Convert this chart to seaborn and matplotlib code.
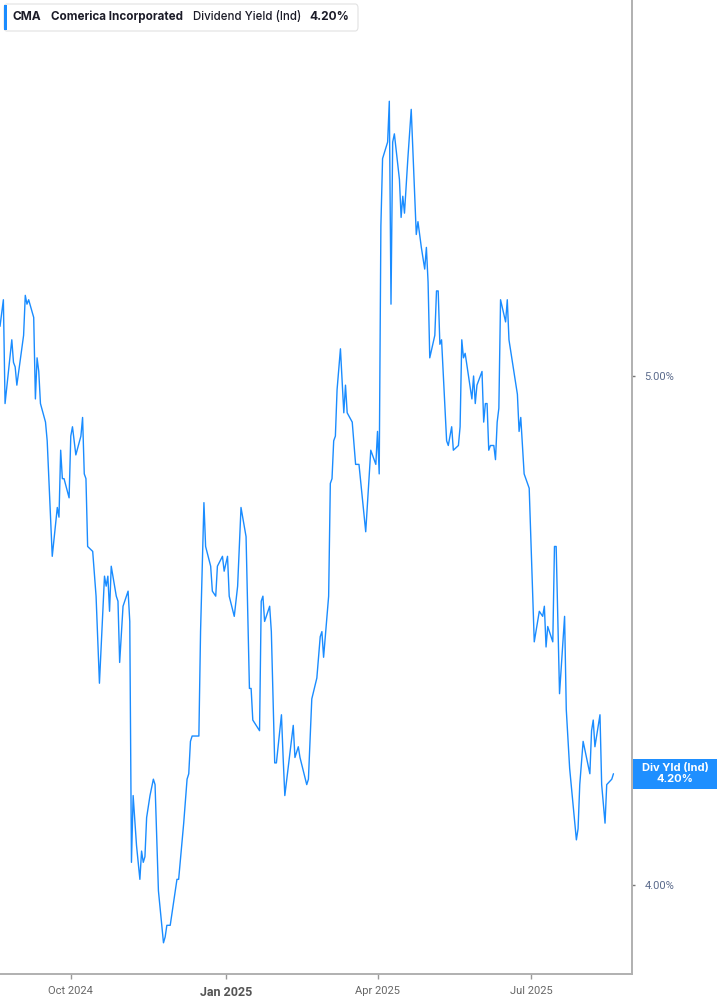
import pandas as pd
import matplotlib
matplotlib.use("Agg")
import matplotlib.pyplot as plt
import matplotlib.dates as mdates
from matplotlib.patches import FancyBboxPatch, Rectangle
import seaborn as sns

# Dividend yield (indicated) for CMA
dates = [
    # Aug 2024
    "2024-08-20", "2024-08-22", "2024-08-23", "2024-08-27", "2024-08-28", "2024-08-29", "2024-08-30",
    # Sep
    "2024-09-03", "2024-09-04", "2024-09-05", "2024-09-06", "2024-09-09", "2024-09-10", "2024-09-11",
    "2024-09-12", "2024-09-13", "2024-09-16", "2024-09-17", "2024-09-20", "2024-09-23", "2024-09-24",
    "2024-09-25", "2024-09-26", "2024-09-27", "2024-09-30",
    # Oct
    "2024-10-01", "2024-10-02", "2024-10-04", "2024-10-07", "2024-10-08", "2024-10-09", "2024-10-10",
    "2024-10-11", "2024-10-14", "2024-10-16", "2024-10-18", "2024-10-21", "2024-10-22", "2024-10-23",
    "2024-10-24", "2024-10-25", "2024-10-28", "2024-10-29", "2024-10-30",
    # Nov
    "2024-11-01", "2024-11-04", "2024-11-05", "2024-11-06", "2024-11-07", "2024-11-09", "2024-11-11",
    "2024-11-12", "2024-11-13", "2024-11-14", "2024-11-15", "2024-11-17", "2024-11-19", "2024-11-20",
    "2024-11-22", "2024-11-25", "2024-11-26", "2024-11-27", "2024-11-29",
    # Dec
    "2024-12-02", "2024-12-03", "2024-12-04", "2024-12-07", "2024-12-09", "2024-12-10", "2024-12-11",
    "2024-12-12", "2024-12-13", "2024-12-16", "2024-12-17", "2024-12-19", "2024-12-20", "2024-12-23",
    "2024-12-24", "2024-12-26", "2024-12-27", "2024-12-30", "2024-12-31",
    # Jan 2025
    "2025-01-02", "2025-01-03", "2025-01-06", "2025-01-08", "2025-01-10", "2025-01-13", "2025-01-15",
    "2025-01-16", "2025-01-17", "2025-01-21", "2025-01-22", "2025-01-23", "2025-01-24", "2025-01-27",
    "2025-01-28", "2025-01-30", "2025-01-31",
    # Feb
    "2025-02-03", "2025-02-04", "2025-02-05", "2025-02-10", "2025-02-11", "2025-02-13", "2025-02-14",
    "2025-02-18", "2025-02-19", "2025-02-21", "2025-02-24", "2025-02-26", "2025-02-27", "2025-02-28",
    # Mar
    "2025-03-03", "2025-03-04", "2025-03-05", "2025-03-06", "2025-03-07", "2025-03-08", "2025-03-10",
    "2025-03-12", "2025-03-13", "2025-03-14", "2025-03-17", "2025-03-19", "2025-03-21", "2025-03-25",
    "2025-03-28", "2025-03-31",
    # Apr
    "2025-04-01", "2025-04-02", "2025-04-03", "2025-04-04", "2025-04-07", "2025-04-08", "2025-04-09",
    "2025-04-10", "2025-04-11", "2025-04-14", "2025-04-15", "2025-04-16", "2025-04-17", "2025-04-19",
    "2025-04-21", "2025-04-24", "2025-04-25", "2025-04-27", "2025-04-29", "2025-04-30",
    # May
    "2025-05-01", "2025-05-02", "2025-05-05", "2025-05-06", "2025-05-07", "2025-05-08", "2025-05-09",
    "2025-05-12", "2025-05-13", "2025-05-15", "2025-05-16", "2025-05-19", "2025-05-20", "2025-05-21",
    "2025-05-22", "2025-05-23", "2025-05-27", "2025-05-28", "2025-05-29", "2025-05-30",
    # Jun
    "2025-06-02", "2025-06-03", "2025-06-04", "2025-06-05", "2025-06-06", "2025-06-07", "2025-06-09",
    "2025-06-10", "2025-06-11", "2025-06-12", "2025-06-13", "2025-06-16", "2025-06-17", "2025-06-18",
    "2025-06-23", "2025-06-24", "2025-06-25", "2025-06-27", "2025-06-28", "2025-06-30",
    # Jul
    "2025-07-03", "2025-07-06", "2025-07-08", "2025-07-09", "2025-07-10", "2025-07-11", "2025-07-14",
    "2025-07-15", "2025-07-16", "2025-07-18", "2025-07-21", "2025-07-22", "2025-07-24", "2025-07-28",
    "2025-07-29", "2025-07-30",
    # Aug
    "2025-08-01", "2025-08-05", "2025-08-06", "2025-08-07", "2025-08-08", "2025-08-11", "2025-08-12",
    "2025-08-14", "2025-08-15", "2025-08-18", "2025-08-19",
]

div_yield = [
    5.11, 5.17, 4.94, 5.08, 5.03, 5.02, 4.98,
    5.09, 5.18, 5.16, 5.17, 5.13, 4.95, 5.04, 5.01, 4.94, 4.90, 4.86, 4.62, 4.72, 4.70,
    4.84, 4.78, 4.78, 4.74,
    4.87, 4.89, 4.83, 4.87, 4.91, 4.79, 4.78, 4.64, 4.63, 4.54, 4.37, 4.58, 4.56, 4.58,
    4.51, 4.60, 4.54, 4.53, 4.41,
    4.52, 4.55, 4.49, 4.04, 4.16, 4.07, 4.01, 4.06, 4.04, 4.05, 4.12, 4.16, 4.19, 4.18,
    3.99, 3.90, 3.91, 3.93, 3.93,
    3.99, 4.01, 4.01, 4.11, 4.19, 4.20, 4.26, 4.27, 4.27, 4.27, 4.47, 4.73, 4.64, 4.60,
    4.55, 4.54, 4.60, 4.62, 4.59,
    4.62, 4.54, 4.50, 4.56, 4.72, 4.66, 4.36, 4.36, 4.30, 4.28, 4.53, 4.54, 4.49, 4.52,
    4.47, 4.22, 4.22,
    4.31, 4.23, 4.16, 4.29, 4.23, 4.25, 4.23, 4.18, 4.19, 4.34, 4.38, 4.46, 4.47, 4.42,
    4.54, 4.77, 4.78, 4.86, 4.87, 4.97, 5.06, 4.92, 4.98, 4.92, 4.90, 4.81, 4.81, 4.67,
    4.84, 4.81,
    4.88, 4.79, 5.34, 5.50, 5.54, 5.64, 5.16, 5.54, 5.56, 5.45, 5.36, 5.41, 5.37, 5.50,
    5.62, 5.32, 5.35, 5.29, 5.24, 5.29,
    5.21, 5.04, 5.09, 5.19, 5.19, 5.07, 5.08, 4.86, 4.85, 4.89, 4.84, 4.85, 4.89, 5.08,
    5.04, 5.05, 4.95, 5.00, 4.94, 4.98,
    5.01, 4.90, 4.94, 4.94, 4.84, 4.85, 4.85, 4.82, 4.90, 4.93, 5.17, 5.12, 5.17, 5.08,
    4.96, 4.88, 4.91, 4.79, 4.78, 4.76,
    4.45, 4.51, 4.50, 4.52, 4.44, 4.48, 4.45, 4.64, 4.64, 4.35, 4.50, 4.32, 4.21, 4.08,
    4.10, 4.18,
    4.26, 4.20, 4.28, 4.30, 4.25, 4.31, 4.18, 4.11, 4.18, 4.19, 4.20,
]

x_ticks = ["2024-10-01", "2025-01-01", "2025-04-01", "2025-07-01"]
x_tick_labels = ["Oct 2024", "Jan 2025", "Apr 2025", "Jul 2025"]
y_ticks = [4.0, 5.0]
y_tick_labels = ["4.00%", "5.00%"]

ticker = "CMA"
company = "Comerica Incorporated"
metric = "Dividend Yield (Ind)"
badge_label = "Div Yld (Ind)"

LINE_BLUE = "#1a8cff"
BADGE_BLUE = "#1e8fff"
W, H = 717, 1005

sns.set_style("white")
plt.rcParams["font.family"] = ["Inter", "DejaVu Sans"]

df = pd.DataFrame({"date": pd.to_datetime(dates), "yield": div_yield})

fig = plt.figure(figsize=(W / 100, H / 100), dpi=100)
ax = fig.add_axes([0, 1 - 974 / H, 632 / W, 974 / H])

sns.lineplot(data=df, x="date", y="yield", ax=ax, color=LINE_BLUE, linewidth=1.0)

ax.set_yscale("log")
ax.set_ylim(3.847, 5.896)
ax.set_xlim(pd.Timestamp("2024-08-20"), pd.Timestamp("2025-08-30"))
ax.set_xlabel("")
ax.set_ylabel("")

# right-hand value axis
ax.yaxis.tick_right()
ax.yaxis.set_minor_locator(matplotlib.ticker.NullLocator())
ax.set_yticks(y_ticks)
ax.set_yticklabels(y_tick_labels, fontfamily="Roboto", fontsize=8, color="#5b6b8c")
ax.tick_params(axis="y", which="both", right=True, left=False, length=2.5, width=1,
               color="#777777", pad=6.5)

# bottom time axis
ax.set_xticks(pd.to_datetime(x_ticks))
ax.set_xticklabels(x_tick_labels, fontfamily="Roboto", fontsize=8, color="#666666")
ax.tick_params(axis="x", bottom=True, length=3.5, width=1, color="#999999", pad=5)
for lbl in ax.get_xticklabels():
    if lbl.get_text().startswith("Jan"):
        lbl.set_fontweight("bold")
        lbl.set_fontsize(9)
        lbl.set_color("#555555")

for side in ["left", "top"]:
    ax.spines[side].set_visible(False)
for side in ["right", "bottom"]:
    ax.spines[side].set_color("#b0b0b0")
    ax.spines[side].set_linewidth(1.4)

# legend box in the top-left corner
def px(x, y):
    return x / W, 1 - y / H

box = FancyBboxPatch(px(4, 31), 354 / W, 27 / H, boxstyle="round,pad=0,rounding_size=0.004",
                     transform=fig.transFigure, facecolor="white", edgecolor="#e2e2e2",
                     linewidth=0.8, zorder=5)
fig.add_artist(box)
fig.add_artist(Rectangle(px(4, 30), 3 / W, 25 / H, transform=fig.transFigure,
                         facecolor=LINE_BLUE, edgecolor="none", zorder=6))
legend_items = [(13, ticker, "bold", 8.6), (51, company, "bold", 8.4),
                (193, metric, "medium", 8.3), (309, f"{div_yield[-1]:.2f}%", "bold", 8.6)]
for x0, txt, weight, size in legend_items:
    fig.text(*px(x0, 17), txt, fontsize=size, fontweight=weight, color="#1c1c28",
             va="center", ha="left", zorder=7)

# last-value badge on the right axis
x_last = mdates.date2num(df["date"].iloc[-1])
y_disp = ax.transData.transform((x_last, div_yield[-1]))[1]
y_frac = y_disp / fig.bbox.height
fig.add_artist(Rectangle((633 / W, y_frac - 15 / H), 84 / W, 30 / H, transform=fig.transFigure,
                         facecolor=BADGE_BLUE, edgecolor="none", zorder=6))
fig.text(675 / W, y_frac + 5.5 / H, badge_label, fontsize=8, fontweight="bold", color="white",
         ha="center", va="center", zorder=7)
fig.text(675 / W, y_frac - 5.5 / H, f"{div_yield[-1]:.2f}%", fontsize=8, fontweight="bold",
         color="white", ha="center", va="center", zorder=7)

fig.savefig("out.png", dpi=100)
